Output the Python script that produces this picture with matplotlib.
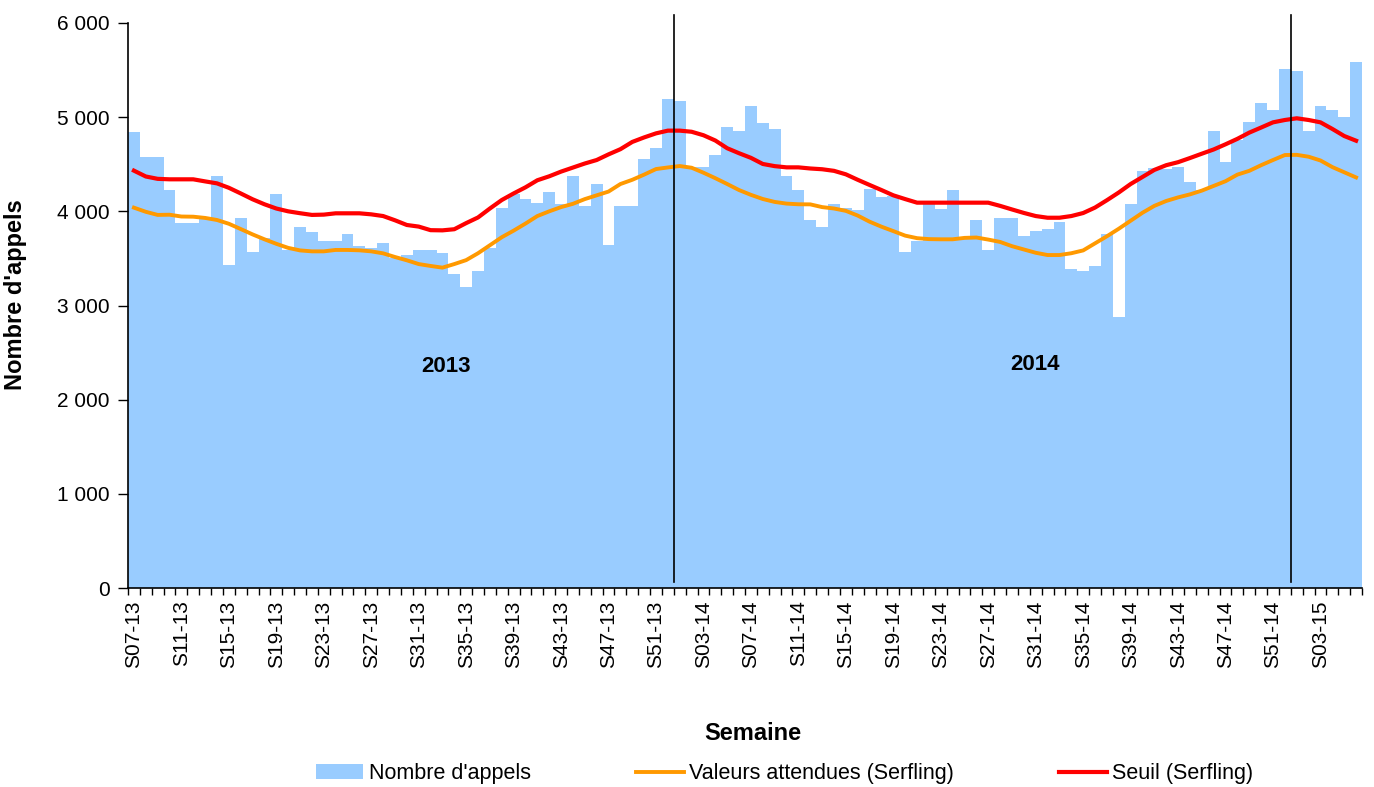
import numpy as np
import matplotlib
matplotlib.use("Agg")
import matplotlib.pyplot as plt
from matplotlib.ticker import FuncFormatter

plt.rcParams['font.family'] = ['Liberation Sans', 'DejaVu Sans']

# weeks S07-13 .. S06-15
weeks = ([f"S{w:02d}-13" for w in range(7, 53)]
         + [f"S{w:02d}-14" for w in range(1, 53)]
         + [f"S{w:02d}-15" for w in range(1, 7)])

appels = [
    # 2013 S07-S52
    4840, 4577, 4577, 4226, 3874, 3874, 3930, 4375, 3430, 3930,
    3568, 3717, 4184, 3590, 3833, 3780, 3685, 3685, 3760, 3632,
    3611, 3660, 3503, 3536, 3586, 3586, 3554, 3331, 3200, 3366,
    3607, 4039, 4184, 4131, 4092, 4201, 4074, 4372, 4057, 4294,
    3646, 4053, 4053, 4556, 4669, 5193,
    # 2014 S01-S52
    5172, 4467, 4467, 4595, 4892, 4857, 5118, 4934, 4874, 4372,
    4223, 3904, 3833, 4074, 4039, 4017, 4241, 4155, 4165, 3572,
    3685, 4074, 4022, 4223, 3731, 3904, 3590, 3926, 3926, 3742,
    3795, 3812, 3887, 3388, 3366, 3423, 3759, 2881, 4074, 4428,
    4460, 4449, 4467, 4315, 4226, 4857, 4520, 4757, 4949, 5154,
    5080, 5508,
    # 2015 S01-S06
    5490, 4857, 5118, 5080, 5005, 5582,
]

attendues = [
    4039, 3995, 3962, 3964, 3945, 3943, 3930, 3908, 3868, 3812,
    3755, 3703, 3655, 3612, 3585, 3575, 3575, 3590, 3590, 3586,
    3575, 3554, 3515, 3480, 3440, 3420, 3402, 3440, 3482, 3555,
    3640, 3725, 3795, 3870, 3950, 4000, 4045, 4080, 4130, 4170,
    4210, 4290, 4335, 4390, 4449, 4466,
    4481, 4463, 4410, 4352, 4290, 4226, 4175, 4131, 4100, 4082,
    4075, 4074, 4045, 4030, 4005, 3955, 3890, 3837, 3790, 3742,
    3715, 3705, 3703, 3703, 3718, 3722, 3700, 3675, 3630, 3595,
    3560, 3536, 3536, 3555, 3585, 3660, 3735, 3815, 3900, 3985,
    4058, 4110, 4148, 4180, 4220, 4270, 4320, 4390, 4430, 4490,
    4545, 4598,
    4600, 4580, 4540, 4470, 4415, 4360,
]

seuil = [
    4432, 4370, 4345, 4340, 4340, 4340, 4318, 4297, 4250, 4190,
    4128, 4075, 4030, 4000, 3980, 3962, 3965, 3979, 3979, 3979,
    3968, 3950, 3905, 3855, 3838, 3800, 3798, 3810, 3875, 3935,
    4030, 4120, 4190, 4255, 4330, 4372, 4422, 4465, 4508, 4545,
    4605, 4660, 4737, 4785, 4828, 4857,
    4857, 4845, 4808, 4752, 4670, 4617, 4568, 4503, 4480, 4467,
    4467, 4455, 4447, 4430, 4393, 4335, 4280, 4226, 4170, 4130,
    4092, 4092, 4092, 4092, 4092, 4092, 4092, 4058, 4020, 3983,
    3950, 3932, 3932, 3950, 3982, 4040, 4118, 4200, 4290, 4365,
    4440, 4490, 4522, 4566, 4612, 4657, 4712, 4770, 4836, 4890,
    4945, 4970,
    4988, 4970, 4945, 4875, 4800, 4750,
]

year_labels = ["2013", "2014"]
year_starts = ["S01-14", "S01-15"]

x = np.arange(len(weeks))

fig = plt.figure(figsize=(13.74, 7.87), dpi=100)
ax = fig.add_axes([128 / 1374, 1 - 588 / 787, (1362 - 128) / 1374, (588 - 23) / 787])

bars = ax.bar(x, appels, width=1.0, color='#99CCFF', linewidth=0, label="Nombre d'appels")
l1, = ax.plot(x, attendues, color='#FF9900', linewidth=2.8, label='Valeurs attendues (Serfling)')
l2, = ax.plot(x, seuil, color='#FF0000', linewidth=3.0, label='Seuil (Serfling)')

# year separators
for w in year_starts:
    ax.axvline(weeks.index(w) - 0.5, ymin=0.01, ymax=1.014, color='black', linewidth=1.2, clip_on=False)

ax.text(26.3, 2350, year_labels[0], ha='center', va='center', fontsize=16, fontweight='bold')
ax.text(75.9, 2370, year_labels[1], ha='center', va='center', fontsize=16, fontweight='bold')

ax.set_xlim(-0.5, len(weeks) - 0.5)
ax.set_ylim(0, 6000)
ax.set_yticks(range(0, 6001, 1000))
ax.yaxis.set_major_formatter(FuncFormatter(lambda v, p: f"{int(v):,}".replace(",", " ")))
ax.tick_params(axis='y', direction='out', length=7, width=1, labelsize=15, pad=6)

ax.set_xticks(x[::4])
ax.set_xticklabels(weeks[::4], rotation=90, fontsize=15)
ax.set_xticks(np.arange(-0.5, len(weeks), 1), minor=True)
ax.tick_params(axis='x', which='major', length=0, pad=9)
ax.tick_params(axis='x', which='minor', direction='out', length=5, width=1)

ax.spines['top'].set_visible(False)
ax.spines['right'].set_visible(False)
ax.spines['left'].set_linewidth(1.2)
ax.spines['bottom'].set_linewidth(1.2)

ax.set_xlabel('Semaine', fontsize=17, fontweight='bold')
ax.xaxis.set_label_coords(0.506, -0.237)
ax.set_ylabel("Nombre d'appels", fontsize=17, fontweight='bold')
ax.yaxis.set_label_coords(-0.082, 0.52)

fig.legend([bars, l1, l2], [bars.get_label(), l1.get_label(), l2.get_label()],
           loc='center', bbox_to_anchor=(0.571, 0.017), ncol=3, frameon=False,
           fontsize=15.5, handlelength=2.2, columnspacing=4.9, handletextpad=0.25)

fig.savefig('out.png', dpi=100)
